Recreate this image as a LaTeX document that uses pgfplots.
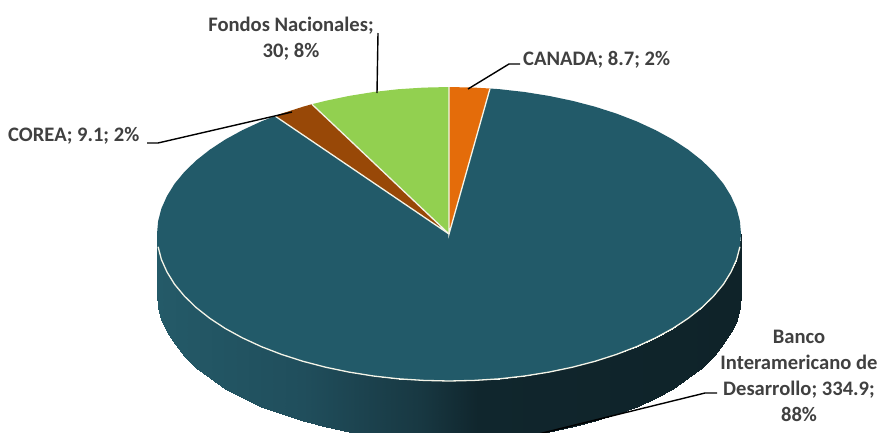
\documentclass[border=0pt]{standalone}
\usepackage{fontspec}
\setmainfont{Carlito}
\usepackage{pgfplots}
\usepackage{pgfplotstable}
\pgfplotsset{compat=1.18}
\definecolor{teal}{HTML}{225A69}
\definecolor{orng}{HTML}{E46C0A}
\definecolor{brwn}{HTML}{984807}
\definecolor{gren}{HTML}{92D050}
\definecolor{lbl}{HTML}{404040}
\definecolor{rim}{HTML}{F4F4E8}
\pgfplotsset{
 colormap={side}{rgb255(0cm)=(36,90,104); rgb255(5cm)=(32,78,92); rgb255(9cm)=(24,56,66); rgb255(11cm)=(16,38,45); rgb255(20cm)=(15,35,41)}
}
\pgfplotstableread{
x y
157.0 234.0
158.1 246.8
161.4 259.5
167.0 272.0
174.6 284.3
184.4 296.1
196.1 307.5
209.8 318.3
225.3 328.5
242.5 337.9
261.3 346.6
281.5 354.4
303.0 361.3
325.6 367.2
349.1 372.1
373.4 376.0
398.3 378.8
423.6 380.4
449.0 381.0
474.4 380.4
499.7 378.8
524.6 376.0
548.9 372.1
572.4 367.2
595.0 361.3
616.5 354.4
636.7 346.6
655.5 337.9
672.7 328.5
688.2 318.3
701.9 307.5
713.6 296.1
723.4 284.3
731.0 272.0
736.6 259.5
739.9 246.8
741.0 234.0
157.0 294.0
158.1 306.8
161.4 319.5
167.0 332.0
174.6 344.3
184.4 356.1
196.1 367.5
209.8 378.3
225.3 388.5
242.5 397.9
261.3 406.6
281.5 414.4
303.0 421.3
325.6 427.2
349.1 432.1
373.4 436.0
398.3 438.8
423.6 440.4
449.0 441.0
474.4 440.4
499.7 438.8
524.6 436.0
548.9 432.1
572.4 427.2
595.0 421.3
616.5 414.4
636.7 406.6
655.5 397.9
672.7 388.5
688.2 378.3
701.9 367.5
713.6 356.1
723.4 344.3
731.0 332.0
736.6 319.5
739.9 306.8
741.0 294.0
}\sidewall
\begin{document}
\begin{tikzpicture}
\path[use as bounding box] (0,0) rectangle (880pt,432pt);
\begin{axis}[at={(0,0)},anchor=south west,scale only axis,width=880pt,height=432pt,hide axis,
 xmin=0,xmax=880,ymin=0,ymax=432,y dir=reverse,
 colormap name=side]
% side wall
\addplot[surf,shader=interp,mesh/cols=37,point meta=x] table {\sidewall};
% main slice: Banco Interamericano de Desarrollo
\addplot[fill=teal,draw=none] coordinates {
(449,234)(490,88.5)(499.7,89.2)(524.6,92)(548.9,95.9)(572.4,100.8)(595,106.7)(616.5,113.6)(636.7,121.4)(655.5,130.1)(672.7,139.5)(688.2,149.7)(701.9,160.5)(713.6,171.9)(723.4,183.7)(731,196)(736.6,208.5)(739.9,221.2)(741,234)
(739.9,246.8)(736.6,259.5)(731,272)(723.4,284.3)(713.6,296.1)(701.9,307.5)(688.2,318.3)(672.7,328.5)(655.5,337.9)(636.7,346.6)(616.5,354.4)(595,361.3)(572.4,367.2)(548.9,372.1)(524.6,376)(499.7,378.8)(474.4,380.4)(449,381)
(423.6,380.4)(398.3,378.8)(373.4,376)(349.1,372.1)(325.6,367.2)(303,361.3)(281.5,354.4)(261.3,346.6)(242.5,337.9)(225.3,328.5)(209.8,318.3)(196.1,307.5)(184.4,296.1)(174.6,284.3)(167,272)(161.4,259.5)(158.1,246.8)(157,234)
(158.1,221.2)(161.4,208.5)(167,196)(174.6,183.7)(184.4,171.9)(196.1,160.5)(209.8,149.7)(225.3,139.5)(242.5,130.1)(261.3,121.4)(275,116)(449,234)};
% Canada
\addplot[fill=orng,draw=none] coordinates {(449,234)(449,87)(474.4,87.6)(490,88.5)(449,234)};
% Fondos Nacionales
\addplot[fill=gren,draw=none] coordinates {(449,234)(311.9,104.2)(325.6,100.8)(349.1,95.9)(373.4,92)(398.3,89.2)(423.6,87.6)(449,87)(449,234)};
% Corea
\addplot[fill=brwn,draw=none] coordinates {(449,234)(275,116)(281.5,113.6)(303,106.7)(311.9,104.2)(449,234)};
% rim
\addplot[rim,line width=1.3pt] coordinates {(158.1,246.8)(161.4,259.5)(167,272)(174.6,284.3)(184.4,296.1)(196.1,307.5)(209.8,318.3)(225.3,328.5)(242.5,337.9)(261.3,346.6)(281.5,354.4)(303,361.3)(325.6,367.2)(349.1,372.1)(373.4,376)(398.3,378.8)(423.6,380.4)(449,381)(474.4,380.4)(499.7,378.8)(524.6,376)(548.9,372.1)(572.4,367.2)(595,361.3)(616.5,354.4)(636.7,346.6)(655.5,337.9)(672.7,328.5)(688.2,318.3)(701.9,307.5)(713.6,296.1)(723.4,284.3)(731,272)(736.6,259.5)(739.9,246.8)};
% separators
\addplot[rim,line width=1.3pt] coordinates {(490,88.5)(449,234)(449,87)};
\addplot[rim,line width=1.3pt] coordinates {(311.9,104.2)(449,234)(275,116)};
% leaders
\addplot[black,line width=1.4pt] coordinates {(378,33)(377,93)};
\addplot[black,line width=1.4pt] coordinates {(520,64)(509,64)(468,89)};
\addplot[black,line width=1.4pt] coordinates {(147,143)(158,143)(292,112)};
\addplot[black,line width=1.4pt] coordinates {(717,393)(705,393)(510,441)};
% labels
\begin{scope}[every node/.style={text=lbl,font=\bfseries\fontsize{20.6}{26}\selectfont,align=center,inner sep=0pt}]
\node at (axis cs:291,39) {Fondos Nacionales;\\30; 8\%};
\node[anchor=west] at (axis cs:523,60) {CANADA; 8.7; 2\%};
\node[anchor=west] at (axis cs:8,136) {COREA; 9.1; 2\%};
\node at (axis cs:799,376) {Banco\\Interamericano de\\Desarrollo; 334.9;\\88\%};
\end{scope}
\end{axis}
\end{tikzpicture}
\end{document}
